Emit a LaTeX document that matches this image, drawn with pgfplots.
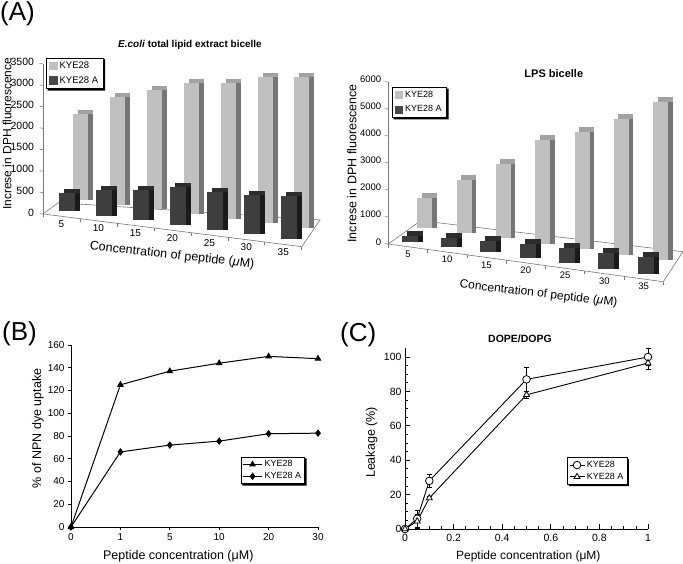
\documentclass[border=0pt]{standalone}
\usepackage{pgfplots}
\usepackage{pgfplotstable}
\pgfplotsset{compat=1.18}
\usepackage{fontspec}
\setmainfont{Liberation Sans}

\definecolor{lfront}{RGB}{192,192,192}
\definecolor{ltop}{RGB}{162,162,162}
\definecolor{lside}{RGB}{118,118,118}
\definecolor{dfront}{RGB}{62,62,62}
\definecolor{dtop}{RGB}{44,44,44}
\definecolor{dside}{RGB}{26,26,26}
\definecolor{dleg}{RGB}{72,72,72}
\definecolor{axgray}{RGB}{120,120,120}

\pgfplotstableread{
idx conc zero KYE28 KYE28A
0 5  0 2010 410
1 10 0 2520 600
2 15 0 2780 710
3 20 0 3050 880
4 25 0 3160 890
5 30 0 3410 920
6 35 0 3530 1000
}\ecoli
\pgfplotstableread{
idx conc zero KYE28 KYE28A
0 5  0 1090 210
1 10 0 1970 330
2 15 0 2760 440
3 20 0 3850 520
4 25 0 4360 560
5 30 0 5010 570
6 35 0 5860 640
}\lps
\pgfplotstableread{
idx conc KYE28 KYE28A
0 0  0   0
1 1  125 66
2 5  137 72
3 10 144 75.5
4 20 150 82
5 30 148 82.5
}\npn

\pgfplotsset{
  /pgf/number format/assume math mode=true,
  /pgf/number format/1000 sep={},
  cube/.style 2 args={draw=none, mark=none, forget plot,
    /pgfplots/error bars/y dir=plus, /pgfplots/error bars/y explicit,
    /pgfplots/error bars/error mark=none,
    /pgfplots/error bars/error bar style={draw=#1, line width=#2, line cap=butt}},
  legbox/.style={draw=black, line width=0.7pt, fill=white},
}
\newcommand{\legshadow}[1]{%
  \fill[black] ([yshift=-1.6pt]#1.north east) -- ++(1.6pt,0pt)
    -- ([shift={(1.6pt,-1.6pt)}]#1.south east) -- ([shift={(1.6pt,-1.6pt)}]#1.south west)
    -- ++(0pt,1.6pt) -- (#1.south east) -- cycle;}

\begin{document}
\begin{tikzpicture}
\useasboundingbox (0pt,0pt) rectangle (683pt,-563pt);

% ---------------- (A) left: E.coli ----------------
\begin{axis}[
  at={(61.5pt,-216.3pt)}, anchor=origin,
  x={(36.96pt,-4.67pt)}, y={(0pt,0.042857pt)},
  xmin=-0.5, xmax=6.5, ymin=0, ymax=3500,
  clip=false,
  axis lines*=left,
  axis line style={-, draw=axgray, line width=0.6pt},
  tick style={draw=axgray, line width=0.6pt},
  tick align=outside, major tick length=3.5pt,
  ytick={0,500,...,3500},
  scaled y ticks=false,
  yticklabel style={font=\fontsize{10.5}{12}\selectfont, xshift=-2pt},
  xtick={-0.5,0.5,...,6.5}, xticklabels={},
  extra x ticks={0,...,6}, extra x tick labels={5,10,15,20,25,30,35},
  extra x tick style={major tick length=0pt,
    xticklabel style={font=\fontsize{10}{12}\selectfont, yshift=-0.5pt}},
  legend style={legbox, name=legE, at={(axis cs:-0.419,3659)}, anchor=north west,
    font=\fontsize{9.5}{11}\selectfont, inner xsep=3pt, inner ysep=2pt,
    row sep=2.5pt, cells={anchor=west}},
]
\draw[axgray, line width=0.6pt] (axis cs:6.5,0) -- ++(18.3pt,26.7pt)
   -- ([shift={(15.3pt,11.3pt)}]axis cs:-0.5,0) -- (axis cs:-0.5,0);
\addplot[cube={ltop}{15pt},  xshift=23.7pt, yshift=20.3pt] table[x=idx,y=zero,y error=KYE28]{\ecoli};
\addplot[cube={lside}{15pt}, xshift=23.7pt, yshift=16.3pt] table[x=idx,y=zero,y error=KYE28]{\ecoli};
\addplot[cube={lfront}{15pt},xshift=18.7pt, yshift=16.3pt] table[x=idx,y=zero,y error=KYE28]{\ecoli};
\addplot[cube={dtop}{16pt},  xshift=10.5pt, yshift=9.3pt] table[x=idx,y=zero,y error=KYE28A]{\ecoli};
\addplot[cube={dside}{16pt}, xshift=10.5pt, yshift=5.3pt] table[x=idx,y=zero,y error=KYE28A]{\ecoli};
\addplot[cube={dfront}{16pt},xshift=5.5pt,  yshift=5.3pt] table[x=idx,y=zero,y error=KYE28A]{\ecoli};
\addlegendimage{legend image code/.code={\fill[lfront] (0pt,-3.8pt) rectangle (7.6pt,3.8pt);}}
\addlegendentry{KYE28}
\addlegendimage{legend image code/.code={\fill[dleg] (0pt,-3.8pt) rectangle (7.6pt,3.8pt);}}
\addlegendentry{KYE28 A}
\end{axis}
\legshadow{legE}

% ---------------- (A) right: LPS ----------------
\begin{axis}[
  at={(407.9pt,-246.7pt)}, anchor=origin,
  x={(39.29pt,-5.39pt)}, y={(0pt,0.027pt)},
  xmin=-0.5, xmax=6.5, ymin=0, ymax=6000,
  clip=false,
  axis lines*=left,
  axis line style={-, draw=axgray, line width=0.6pt},
  tick style={draw=axgray, line width=0.6pt},
  tick align=outside, major tick length=3.5pt,
  ytick={0,1000,...,6000},
  scaled y ticks=false,
  yticklabel style={font=\fontsize{9.5}{11}\selectfont},
  xtick={-0.5,0.5,...,6.5}, xticklabels={},
  extra x ticks={0,...,6}, extra x tick labels={5,10,15,20,25,30,35},
  extra x tick style={major tick length=0pt,
    xticklabel style={font=\fontsize{9.5}{11}\selectfont, yshift=-0.5pt}},
  legend style={legbox, name=legL, at={(axis cs:-0.405,5833)}, anchor=north west,
    font=\fontsize{9}{10}\selectfont, inner xsep=3pt, inner ysep=2pt,
    row sep=2.5pt, cells={anchor=west}},
]
\draw[axgray, line width=0.6pt] (axis cs:6.5,0) -- ++(19.7pt,30pt)
   -- ([shift={(32.4pt,23.3pt)}]axis cs:-0.5,0) -- (axis cs:-0.5,0);
\addplot[cube={ltop}{15pt},  xshift=21.5pt, yshift=24pt] table[x=idx,y=zero,y error=KYE28]{\lps};
\addplot[cube={lside}{15pt}, xshift=21.5pt, yshift=19pt] table[x=idx,y=zero,y error=KYE28]{\lps};
\addplot[cube={lfront}{15pt},xshift=17pt,   yshift=19pt] table[x=idx,y=zero,y error=KYE28]{\lps};
\addplot[cube={dtop}{16pt},  xshift=7pt, yshift=10pt] table[x=idx,y=zero,y error=KYE28A]{\lps};
\addplot[cube={dside}{16pt}, xshift=7pt, yshift=5pt] table[x=idx,y=zero,y error=KYE28A]{\lps};
\addplot[cube={dfront}{16pt},xshift=2pt, yshift=5pt] table[x=idx,y=zero,y error=KYE28A]{\lps};
\addlegendimage{legend image code/.code={\fill[lfront] (0pt,-3.5pt) rectangle (7pt,3.5pt);}}
\addlegendentry{KYE28}
\addlegendimage{legend image code/.code={\fill[dleg] (0pt,-3.5pt) rectangle (7pt,3.5pt);}}
\addlegendentry{KYE28 A}
\end{axis}
\legshadow{legL}

% ---------------- (B) NPN ----------------
\begin{axis}[
  at={(71pt,-527pt)}, anchor=origin,
  x={(49.4pt,0pt)}, y={(0pt,1.1375pt)},
  xmin=0, xmax=5, ymin=0, ymax=160,
  clip=false,
  axis lines*=left,
  axis line style={-, line width=0.7pt},
  tick style={black, line width=0.7pt},
  tick align=outside, major tick length=3pt,
  xtick={0,...,5}, xticklabels={0,1,5,10,20,30},
  ytick={0,20,...,160},
  tick label style={font=\fontsize{10}{12}\selectfont},
  legend style={legbox, name=legB, at={(0.947,0.386)}, anchor=north east,
    font=\fontsize{9}{10}\selectfont, inner xsep=1.5pt, inner ysep=1.5pt,
    row sep=0pt, cells={anchor=west}},
  legend image code/.code={\draw[#1, mark repeat=2, mark phase=2] plot coordinates {(0pt,0pt)(9.5pt,0pt)(19pt,0pt)};},
]
\addplot[black, line width=1pt, mark=triangle*, mark size=3pt] table[x=idx,y=KYE28]{\npn};
\addlegendentry{KYE28}
\addplot[black, line width=1pt, mark=diamond*, mark size=3pt] table[x=idx,y=KYE28A]{\npn};
\addlegendentry{KYE28 A}
\end{axis}
\legshadow{legB}

% ---------------- (C) leakage ----------------
\begin{axis}[
  at={(405pt,-529pt)}, anchor=origin,
  x={(243pt,0pt)}, y={(0pt,1.72pt)},
  xmin=0, xmax=1, ymin=0, ymax=105,
  clip=false,
  axis lines*=left,
  axis line style={-, line width=0.8pt},
  tick style={black, line width=0.7pt},
  tick align=inside, major tick length=5pt, minor tick length=3pt,
  xtick={0,0.2,0.4,0.6,0.8,1}, ytick={0,20,40,60,80,100},
  minor x tick num=3, minor y tick num=3,
  tick label style={font=\fontsize{10.5}{12}\selectfont},
  xticklabel style={yshift=-2pt},
  legend style={legbox, name=legC, at={(0.915,0.397)}, anchor=north east,
    font=\fontsize{9}{10}\selectfont, inner xsep=1.5pt, inner ysep=1.5pt,
    row sep=0pt, cells={anchor=west}},
  legend image code/.code={\draw[#1, mark repeat=2, mark phase=2] plot coordinates {(0pt,0pt)(7.5pt,0pt)(15pt,0pt)};},
]
\addplot[black, line width=0.9pt, mark=*, mark size=3.8pt,
  mark options={fill=white, line width=0.8pt},
  error bars/.cd, y dir=both, y explicit,
  error bar style={line width=0.8pt},
  error mark options={line width=0.8pt, mark size=2.5pt, rotate=90}]
  coordinates {(0,0) +- (0,0) (0.05,6) +- (0,5) (0.1,28) +- (0,4) (0.5,87) +- (0,7) (1,100) +- (0,5)};
\addlegendentry{KYE28}
\addplot[black, line width=0.9pt, mark=triangle*, mark size=3.5pt,
  mark options={fill=white, line width=0.8pt},
  error bars/.cd, y dir=both, y explicit,
  error bar style={line width=0.8pt},
  error mark options={line width=0.8pt, mark size=2.5pt, rotate=90}]
  coordinates {(0,0) +- (0,0) (0.05,4.5) +- (0,4) (0.1,18) +- (0,1) (0.5,78) +- (0,2) (1,96.5) +- (0,3.5)};
\addlegendentry{KYE28 A}
\end{axis}
\legshadow{legC}

% ---------------- texts ----------------
\node[font=\fontsize{26}{30}\selectfont, anchor=base west, inner sep=0pt] at (0pt,-20.7pt) {(A)};
\node[font=\fontsize{26}{30}\selectfont, anchor=base west, inner sep=0pt] at (2pt,-340.7pt) {(B)};
\node[font=\fontsize{26}{30}\selectfont, anchor=base west, inner sep=0pt] at (340pt,-341.7pt) {(C)};

\node[font=\bfseries\fontsize{10}{12}\selectfont] at (190pt,-44.5pt) {\textit{E.coli} total lipid extract bicelle};
\node[font=\bfseries\fontsize{11}{13}\selectfont] at (553.8pt,-73.3pt) {LPS bicelle};
\node[font=\bfseries\fontsize{10.5}{12}\selectfont] at (520pt,-338.3pt) {DOPE/DOPG};

\node[rotate=90, font=\fontsize{12}{14}\selectfont, inner sep=0pt] at (7pt,-133.7pt) {Increse in DPH fluorescence};
\node[rotate=90, font=\fontsize{12.5}{14}\selectfont, inner sep=0pt] at (352pt,-163.3pt) {Increse in DPH fluorescence};
\node[rotate=-6.3, font=\fontsize{12.5}{14}\selectfont, inner sep=0pt] at (172pt,-255.5pt) {Concentration of peptide (\textit{μ}M)};
\node[rotate=-6.7, font=\fontsize{12}{14}\selectfont, inner sep=0pt] at (538.5pt,-294pt) {Concentration of peptide (\textit{μ}M)};

\node[rotate=90, font=\fontsize{12.5}{14}\selectfont, inner sep=0pt] at (38pt,-428.3pt) {\% of NPN dye uptake};
\node[font=\fontsize{12.5}{14}\selectfont, inner sep=0pt] at (178.3pt,-556.7pt) {Peptide concentration (μM)};
\node[rotate=90, font=\fontsize{12.5}{14}\selectfont, inner sep=0pt] at (371.7pt,-442.5pt) {Leakage (\%)};
\node[font=\fontsize{12}{14}\selectfont, inner sep=0pt] at (528.3pt,-556.7pt) {Peptide concentration (μM)};
\end{tikzpicture}
\end{document}
